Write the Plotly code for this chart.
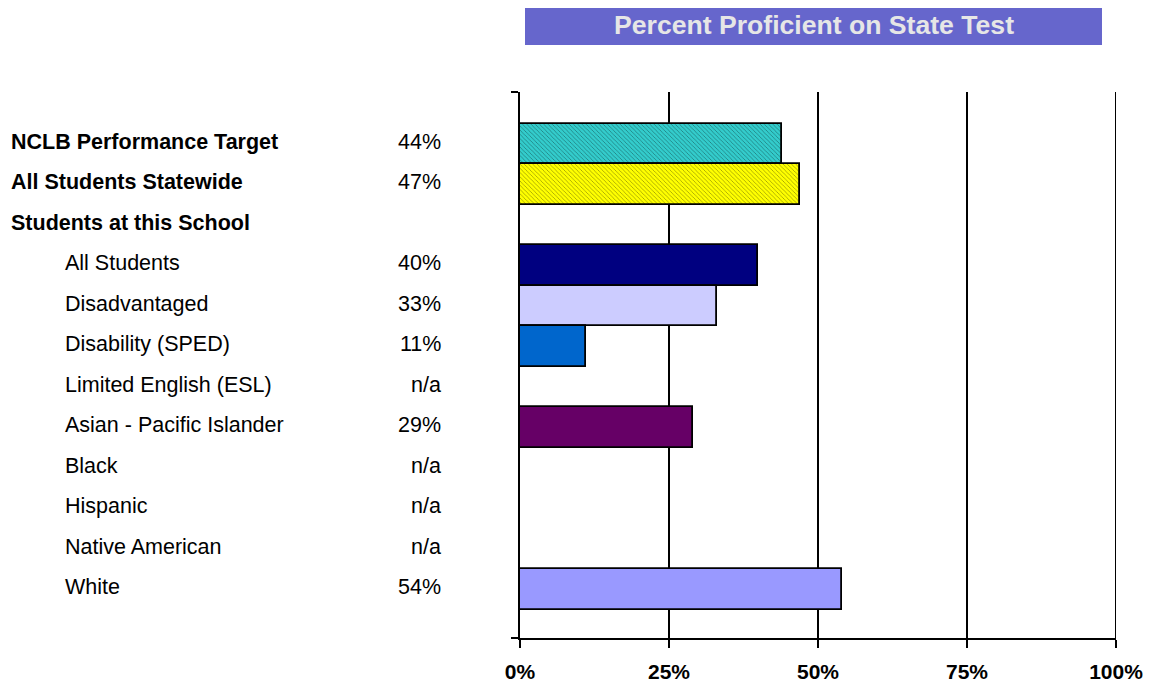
import plotly.graph_objects as go

categories = ["NCLB Performance Target", "All Students Statewide", "Students at this School",
              "All Students", "Disadvantaged", "Disability (SPED)", "Limited English (ESL)",
              "Asian - Pacific Islander", "Black", "Hispanic", "Native American", "White"]
values = [44, 47, None, 40, 33, 11, None, 29, None, None, None, 54]
value_labels = ["44%", "47%", "", "40%", "33%", "11%", "n/a", "29%", "n/a", "n/a", "n/a", "54%"]
bold_rows = [True, True, True, False, False, False, False, False, False, False, False, False]
bar_colors = ["#33CCCC", "#FFFF00", None, "#000080", "#CCCCFF", "#0066CC", None,
              "#660066", None, None, None, "#9999FF"]
hatched = [True, True, False, False, False, False, False, False, False, False, False, False]
x_ticks = [0, 25, 50, 75, 100]
x_tick_labels = ["0%", "25%", "50%", "75%", "100%"]
title_text = "Percent Proficient on State Test"

FONT = "Liberation Sans, Arial, sans-serif"
FS = 21
FS_LAB = 21.5

fig = go.Figure()
for i, (cat, v, c, h) in enumerate(zip(categories, values, bar_colors, hatched)):
    if v is None:
        continue
    marker = dict(color=c, line=dict(color="black", width=1.8))
    if h:
        marker["pattern"] = dict(shape="\\", fgcolor="#000000", bgcolor=c,
                                 size=3, solidity=0.2, fillmode="overlay")
    fig.add_trace(go.Bar(x=[v], y=[i], orientation="h", width=1.0, marker=marker,
                         name=cat, showlegend=False, hoverinfo="x+name"))

annotations = []
for i, (cat, lab, b) in enumerate(zip(categories, value_labels, bold_rows)):
    xl = -0.8573 if b else -0.7668
    annotations.append(dict(x=xl, y=i, xref="paper", yref="y", text=("<b>%s</b>" % cat) if b else cat,
                            showarrow=False, xanchor="left", yanchor="middle",
                            font=dict(family=FONT, size=FS_LAB, color="black"), yshift=2))
    if lab:
        annotations.append(dict(x=-0.1284, y=i, xref="paper", yref="y", text=lab,
                                showarrow=False, xanchor="right", yanchor="middle",
                                font=dict(family=FONT, size=FS_LAB, color="black"), yshift=2))

annotations.append(dict(x=0.4925, y=1.1227, xref="paper", yref="paper",
                        text="<b>%s</b>" % title_text, showarrow=False,
                        xanchor="center", yanchor="middle",
                        font=dict(family=FONT, size=26.6, color="#E6E6E6")))

shapes = [dict(type="rect", xref="paper", yref="paper", x0=0.0084, x1=0.9765,
               y0=1.0861, y1=1.1575, fillcolor="#6666CC", line=dict(width=0), layer="below"),
          dict(type="line", xref="x", yref="paper", x0=x_ticks[-1], x1=x_ticks[-1],
               y0=0, y1=1, line=dict(color="black", width=2), layer="below")]

fig.update_layout(
    width=1143, height=675,
    margin=dict(l=512, r=35, t=84, b=45),
    paper_bgcolor="white", plot_bgcolor="white",
    bargap=0,
    annotations=annotations, shapes=shapes,
    xaxis=dict(range=[0, 100], tickvals=x_ticks, ticktext=x_tick_labels, automargin=False,
               showgrid=True, gridcolor="black", gridwidth=2,
               showline=True, linecolor="black", linewidth=2,
               ticks="outside", ticklen=8, tickcolor="black", tickwidth=2,
               tickfont=dict(family=FONT, size=FS, color="black", weight="bold"),
               zeroline=False, fixedrange=True, ticklabelstandoff=6),
    yaxis=dict(range=[12.2, -1.284], showgrid=False, zeroline=False, automargin=False,
               showline=True, linecolor="black", linewidth=2,
               tickvals=[-1.284, 12.2], ticks="outside", ticklen=7,
               tickcolor="black", tickwidth=2, showticklabels=False, fixedrange=True),
)

fig.write_html("out.html")
